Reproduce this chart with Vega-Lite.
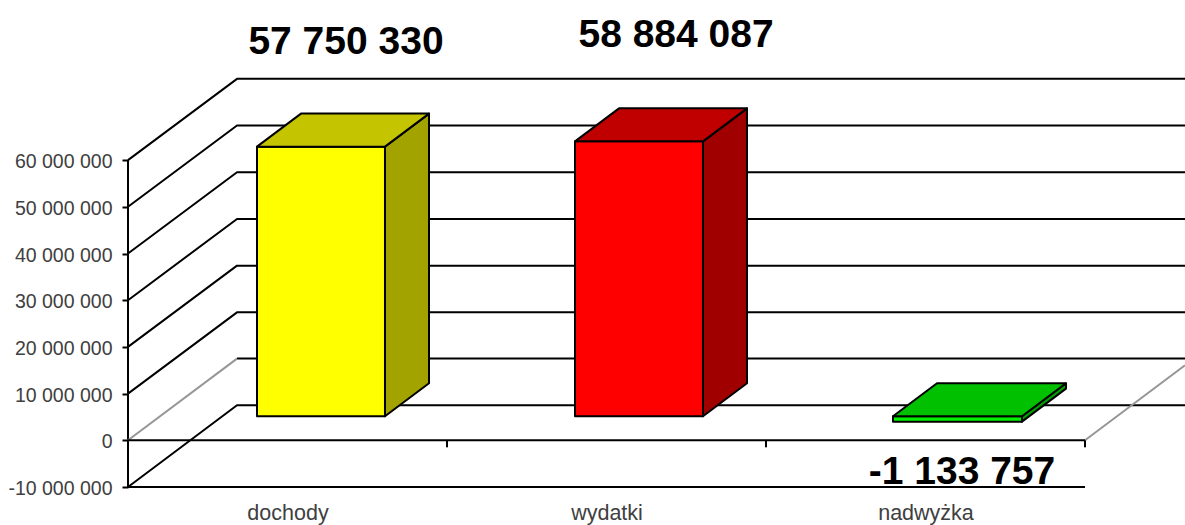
{
"$schema":"https://vega.github.io/schema/vega-lite/v6.json",
"width":1057,"height":487,
"autosize":{"type":"none"},
"padding":{"left":128,"top":0,"right":0,"bottom":38},
"background":"white",
"config":{"view":{"stroke":null}},
"datasets":{
"linie":[
{"linia":"os y","typ":"czarna","u":0,"w":60000000},{"linia":"os y","typ":"czarna","u":0,"w":-10000000},
{"linia":"g60","typ":"czarna","u":0,"w":60000000},{"linia":"g60","typ":"czarna","u":0.3417,"w":77400000},{"linia":"g60","typ":"czarna","u":3.3135,"w":77400000},
{"linia":"g50","typ":"czarna","u":0,"w":50000000},{"linia":"g50","typ":"czarna","u":0.3417,"w":67400000},{"linia":"g50","typ":"czarna","u":3.3135,"w":67400000},
{"linia":"g40","typ":"czarna","u":0,"w":40000000},{"linia":"g40","typ":"czarna","u":0.3417,"w":57400000},{"linia":"g40","typ":"czarna","u":3.3135,"w":57400000},
{"linia":"g30","typ":"czarna","u":0,"w":30000000},{"linia":"g30","typ":"czarna","u":0.3417,"w":47400000},{"linia":"g30","typ":"czarna","u":3.3135,"w":47400000},
{"linia":"g20","typ":"czarna","u":0,"w":20000000},{"linia":"g20","typ":"czarna","u":0.3417,"w":37400000},{"linia":"g20","typ":"czarna","u":3.3135,"w":37400000},
{"linia":"g10","typ":"czarna","u":0,"w":10000000},{"linia":"g10","typ":"czarna","u":0.3417,"w":27400000},{"linia":"g10","typ":"czarna","u":3.3135,"w":27400000},
{"linia":"g0","typ":"czarna","u":0.3417,"w":17500000},{"linia":"g0","typ":"czarna","u":3.3135,"w":17500000},
{"linia":"g-10","typ":"czarna","u":0,"w":-10000000},{"linia":"g-10","typ":"czarna","u":0.3417,"w":7500000},{"linia":"g-10","typ":"czarna","u":3.3135,"w":7500000},
{"linia":"p0 lewa","typ":"szara","u":0,"w":0},{"linia":"p0 lewa","typ":"szara","u":0.3417,"w":17500000},
{"linia":"p0 prawa","typ":"szara","u":3,"w":0},{"linia":"p0 prawa","typ":"szara","u":3.3135,"w":16070000},
{"linia":"os x 0","typ":"czarna","u":0,"w":0},{"linia":"os x 0","typ":"czarna","u":3,"w":0},
{"linia":"os x -10","typ":"czarna","u":0,"w":-10000000},{"linia":"os x -10","typ":"czarna","u":3,"w":-10000000},
{"linia":"t1","typ":"czarna","u":1,"w":0},{"linia":"t1","typ":"czarna","u":1,"w":-1500000},
{"linia":"t2","typ":"czarna","u":2,"w":0},{"linia":"t2","typ":"czarna","u":2,"w":-1500000},
{"linia":"t3","typ":"czarna","u":3,"w":0},{"linia":"t3","typ":"czarna","u":3,"w":-1500000}
],
"sciany":[
{"sciana":"dochody przód","u":0.4044,"w":62890000,"w2":5140000},{"sciana":"dochody przód","u":0.8056,"w":62890000,"w2":5140000},
{"sciana":"dochody bok","u":0.8056,"w":62890000,"w2":5140000},{"sciana":"dochody bok","u":0.9436,"w":69960000,"w2":12210000},
{"sciana":"dochody góra","u":0.4044,"w":62890000,"w2":62890000},{"sciana":"dochody góra","u":0.5423,"w":69960000,"w2":62890000},{"sciana":"dochody góra","u":0.8056,"w":69960000,"w2":62890000},{"sciana":"dochody góra","u":0.9436,"w":69960000,"w2":69960000},
{"sciana":"wydatki przód","u":1.4013,"w":64020000,"w2":5140000},{"sciana":"wydatki przód","u":1.8025,"w":64020000,"w2":5140000},
{"sciana":"wydatki bok","u":1.8025,"w":64020000,"w2":5140000},{"sciana":"wydatki bok","u":1.9404,"w":71090000,"w2":12210000},
{"sciana":"wydatki góra","u":1.4013,"w":64020000,"w2":64020000},{"sciana":"wydatki góra","u":1.5392,"w":71090000,"w2":64020000},{"sciana":"wydatki góra","u":1.8025,"w":71090000,"w2":64020000},{"sciana":"wydatki góra","u":1.9404,"w":71090000,"w2":71090000},
{"sciana":"nadwyżka przód","u":2.3981,"w":5140000,"w2":4000000},{"sciana":"nadwyżka przód","u":2.8025,"w":5140000,"w2":4000000},
{"sciana":"nadwyżka bok","u":2.8025,"w":5140000,"w2":4000000},{"sciana":"nadwyżka bok","u":2.9404,"w":12210000,"w2":11070000},
{"sciana":"nadwyżka góra","u":2.3981,"w":5140000,"w2":5140000},{"sciana":"nadwyżka góra","u":2.5361,"w":12210000,"w2":5140000},{"sciana":"nadwyżka góra","u":2.8025,"w":12210000,"w2":5140000},{"sciana":"nadwyżka góra","u":2.9404,"w":12210000,"w2":12210000}
],
"etykiety":[
{"kategoria":"dochody","tekst":"57 750 330","u":0.6834,"w":85200000},
{"kategoria":"wydatki","tekst":"58 884 087","u":1.718,"w":86900000},
{"kategoria":"nadwyżka","tekst":"-1 133 757","u":2.6144,"w":-6800000}
]
},
"layer":[
{"data":{"name":"linie"},
"mark":{"type":"line","strokeWidth":2,"interpolate":"linear","strokeJoin":"round"},
"encoding":{
"x":{"field":"u","type":"quantitative","scale":{"domain":[0,3.3135],"nice":false,"zero":false},
"axis":{"title":null,"values":[0.5,1.5,2.5],"ticks":false,"domain":false,"grid":false,"labelFont":"Liberation Sans","labelFontSize":21.5,"labelColor":"#404040","labelPadding":15,"labelAngle":0,"labelFlush":false,"labelExpr":"['dochody','wydatki','nadwyżka'][floor(datum.value)]"}},
"y":{"field":"w","type":"quantitative","scale":{"domain":[-10000000,94290000],"nice":false,"zero":false},
"axis":{"title":null,"values":[-10000000,0,10000000,20000000,30000000,40000000,50000000,60000000],"domain":false,"grid":false,"tickColor":"black","tickWidth":2,"tickSize":6,"labelPadding":10,"labelOffset":1.5,"labelFont":"Liberation Sans","labelFontSize":19.5,"labelColor":"#404040","labelExpr":"replace(replace(format(datum.value,','),/,/g,' '),'−','-')"}},
"detail":{"field":"linia"},
"color":{"field":"typ","type":"nominal","scale":{"domain":["czarna","szara"],"range":["#000000","#969696"]},"legend":null}
}},
{"data":{"name":"sciany"},
"mark":{"type":"area","stroke":"black","strokeWidth":2,"strokeJoin":"round","opacity":1,"interpolate":"linear"},
"encoding":{
"x":{"field":"u","type":"quantitative"},
"y":{"field":"w","type":"quantitative","stack":null},
"y2":{"field":"w2"},
"fill":{"field":"sciana","type":"nominal","legend":null,"scale":{
"domain":["dochody przód","dochody bok","dochody góra","wydatki przód","wydatki bok","wydatki góra","nadwyżka przód","nadwyżka bok","nadwyżka góra"],
"range":["#FFFF00","#A3A300","#C4C400","#FF0000","#A00000","#C00000","#00F000","#00A000","#00C000"]}}
}},
{"data":{"name":"etykiety"},
"mark":{"type":"text","font":"Liberation Sans","fontWeight":"bold","fontSize":39,"color":"#000000","align":"center","baseline":"middle"},
"encoding":{
"x":{"field":"u","type":"quantitative"},
"y":{"field":"w","type":"quantitative"},
"text":{"field":"tekst","type":"nominal"}
}}
]
}
